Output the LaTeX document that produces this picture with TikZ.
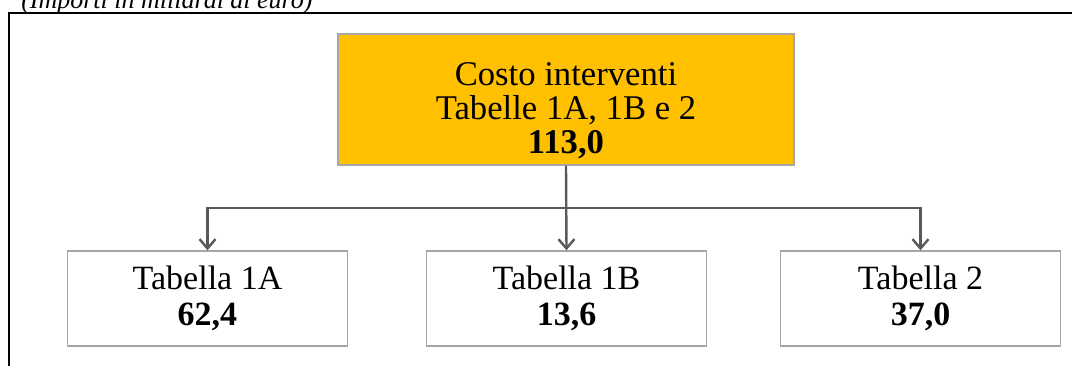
\documentclass[tikz,border=0pt]{standalone}
\usepackage{fontspec}
\setmainfont{Liberation Serif}
\usetikzlibrary{arrows.meta}
\definecolor{boxgold}{HTML}{FFC000}
\definecolor{boxline}{HTML}{A6A6A6}
\definecolor{linkgray}{HTML}{595959}
\newcommand{\lowerstrut}{\rule{0pt}{34pt}}
\tikzset{
  costbox/.style={draw=boxline, line width=1.3pt, fill=boxgold, minimum width=342pt, minimum height=98pt, align=center, inner sep=0pt, font=\fontsize{26}{25.5}\selectfont},
  tabbox/.style={draw=boxline, line width=1.3pt, fill=white, minimum width=210pt, minimum height=71pt, align=center, inner sep=0pt, font=\fontsize{25.5}{27}\selectfont},
  link/.style={draw=linkgray, line width=1.8pt, -{Straight Barb[length=7pt,width=12pt]}}
}

\begin{document}
\begin{tikzpicture}[x=0.75pt, y=-0.75pt]
			%%%%% START %%%%%
			\useasboundingbox (0, 0) rectangle (1072, 365);
			\clip (0, 0) rectangle (1072, 365);
			
			\node[anchor=base west, inner sep=0pt, font=\fontsize{19.5}{20}\selectfont\itshape] (units) at (21, 8) {(Importi in miliardi di euro)};
			\draw[line width=1.5pt] (9, 366) -- (9, 13) -- (1073, 13);
			
			\node[costbox] (total) at (566, 99.5) {\lowerstrut Costo interventi\\Tabelle 1A, 1B e 2\\\textbf{113,0}};
			
			\node[tabbox] (tab1a) at (207.5, 298.5) {Tabella 1A\\\textbf{62,4}};
			\node[tabbox] (tab1b) at (566.5, 298.5) {Tabella 1B\\\textbf{13,6}};
			\node[tabbox] (tab2) at (920.5, 298.5) {Tabella 2\\\textbf{37,0}};
			
			\coordinate (split) at (566, 208);
			\draw[link] (total.south) -- (tab1b.north);
			\draw[link] (split) -| (tab1a.north);
			\draw[link] (split) -| (tab2.north);
			
			%%%%% END %%%%%
\end{tikzpicture}
\end{document}
